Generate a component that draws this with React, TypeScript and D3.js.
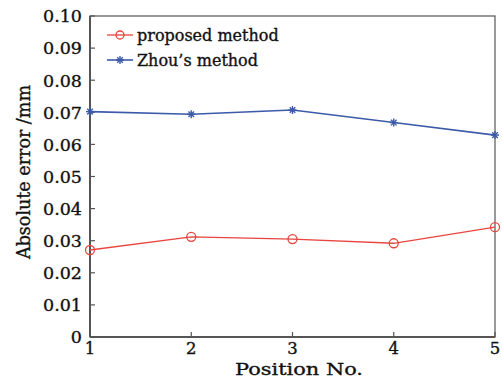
import React from 'react';
import * as d3 from 'd3';

const positions = [1, 2, 3, 4, 5];
const proposed = [0.0271, 0.0312, 0.0305, 0.0292, 0.0342];
const zhou = [0.0702, 0.0694, 0.0707, 0.0668, 0.0629];
const yTicks = [0, 0.01, 0.02, 0.03, 0.04, 0.05, 0.06, 0.07, 0.08, 0.09, 0.1];
const yTickLabels = ['0', '0.01', '0.02', '0.03', '0.04', '0.05', '0.06', '0.07', '0.08', '0.09', '0.10'];

const W = 502;
const H = 379;
const left = 90;
const right = 495;
const top = 16;
const bottom = 337;
const font = '"DejaVu Serif", serif';
const red = '#e8453f';
const blue = '#3b5aa8';
const axisColor = '#555';
const ink = '#111';

const x = d3.scaleLinear().domain([1, 5]).range([left, right]);
const y = d3.scaleLinear().domain([0, 0.1]).range([bottom, top]);

const line = d3.line<number>().x((_, i) => x(positions[i])).y(d => y(d));

const textStyle = { fontFamily: font, fill: ink, stroke: ink, strokeWidth: 0.35 };

const Star = ({ cx, cy, color }: { cx: number; cy: number; color: string }) => {
  const r = 4;
  return (
    <g stroke={color} strokeWidth={1.4}>
      <line x1={cx - r} y1={cy} x2={cx + r} y2={cy} />
      <line x1={cx} y1={cy - r} x2={cx} y2={cy + r} />
      <line x1={cx - r * 0.7} y1={cy - r * 0.7} x2={cx + r * 0.7} y2={cy + r * 0.7} />
      <line x1={cx - r * 0.7} y1={cy + r * 0.7} x2={cx + r * 0.7} y2={cy - r * 0.7} />
    </g>
  );
};

const App = () => {
  return (
    <svg width={W} height={H} style={{ position: 'absolute', left: 0, top: 0 }}>
      <rect x={0} y={0} width={W} height={H} fill="#fff" />
      {/* frame */}
      <rect x={left} y={top} width={right - left} height={bottom - top} fill="none" stroke={axisColor} strokeWidth={1.2} />
      <line x1={left} y1={top} x2={left} y2={bottom} stroke={axisColor} strokeWidth={2} />
      <line x1={left} y1={bottom} x2={right} y2={bottom} stroke={axisColor} strokeWidth={2} />
      {/* y ticks */}
      {yTicks.map((t, i) => (
        <g key={t}>
          <line x1={left} y1={y(t)} x2={left + 5} y2={y(t)} stroke={axisColor} strokeWidth={1.2} />
          <text x={left - 8} y={y(t)} dy="0.36em" textAnchor="end" fontSize={17.5} style={textStyle}>
            {yTickLabels[i]}
          </text>
        </g>
      ))}
      {/* x ticks */}
      {positions.map(p => (
        <g key={p}>
          <line x1={x(p)} y1={bottom} x2={x(p)} y2={bottom - 5} stroke={axisColor} strokeWidth={1.2} />
          <text x={x(p)} y={354} textAnchor="middle" fontSize={16.5} style={textStyle}>
            {p}
          </text>
        </g>
      ))}
      <text x={299} y={375} textAnchor="middle" fontSize={17.5} textLength={128} lengthAdjust="spacingAndGlyphs" style={textStyle}>
        Position No.
      </text>
      <text
        transform={`translate(30, 172) rotate(-90)`}
        textAnchor="middle"
        fontSize={19}
        textLength={174}
        lengthAdjust="spacingAndGlyphs"
        style={textStyle}
      >
        Absolute error /mm
      </text>
      {/* series */}
      <path d={line(proposed) ?? ''} fill="none" stroke={red} strokeWidth={1.3} />
      {proposed.map((v, i) => (
        <circle key={i} cx={x(positions[i])} cy={y(v)} r={4.5} fill="none" stroke={red} strokeWidth={1.3} />
      ))}
      <path d={line(zhou) ?? ''} fill="none" stroke={blue} strokeWidth={1.6} />
      {zhou.map((v, i) => (
        <Star key={i} cx={x(positions[i])} cy={y(v)} color={blue} />
      ))}
      {/* legend */}
      <line x1={107} y1={35} x2={133} y2={35} stroke={red} strokeWidth={1.3} />
      <circle cx={120} cy={35} r={4} fill="none" stroke={red} strokeWidth={1.3} />
      <text x={137} y={35} dy="0.35em" fontSize={16} style={textStyle}>proposed method</text>
      <line x1={107} y1={60} x2={133} y2={60} stroke={blue} strokeWidth={1.6} />
      <Star cx={120} cy={60} color={blue} />
      <text x={137} y={60} dy="0.35em" fontSize={16} style={textStyle}>Zhou’s method</text>
    </svg>
  );
};

export default App;
